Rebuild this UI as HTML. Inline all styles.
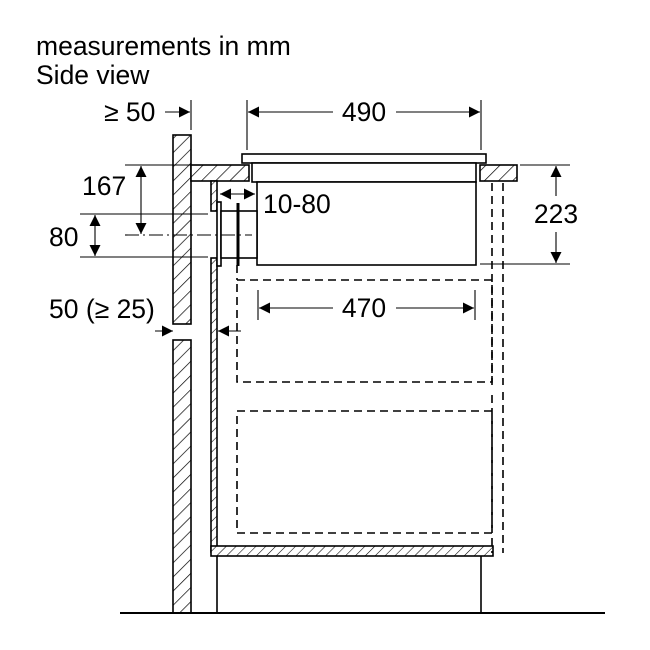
<!DOCTYPE html>
<html><head><meta charset="utf-8"><style>
html,body{margin:0;padding:0;background:#fff}
svg{display:block}
text{font-family:"Liberation Sans",sans-serif;fill:#000}
</style></head><body>
<svg width="650" height="650" viewBox="0 0 650 650" xmlns="http://www.w3.org/2000/svg">
<defs>
<pattern id="h" patternUnits="userSpaceOnUse" width="10" height="10" patternTransform="rotate(45)">
<rect width="10" height="10" fill="#fff"/><line x1="0" y1="0" x2="0" y2="10" stroke="#000" stroke-width="1.4"/>
</pattern>
<pattern id="hs" patternUnits="userSpaceOnUse" width="7" height="7" patternTransform="rotate(45)">
<rect width="7" height="7" fill="#fff"/><line x1="0" y1="0" x2="0" y2="7" stroke="#000" stroke-width="1.1"/>
</pattern>
<marker id="a" viewBox="0 0 10 10" refX="10" refY="5" markerWidth="15" markerHeight="11" markerUnits="userSpaceOnUse" orient="auto-start-reverse"><path d="M0,0 L10,5 L0,10 z" fill="#000"/></marker>
</defs>
<text x="36" y="55" font-size="26.5">measurements in mm</text>
<text x="36" y="84" font-size="26.5">Side view</text>
<g stroke="#000" stroke-width="1.6" fill="none">
<rect x="173" y="135" width="18" height="189" fill="url(#h)"/>
<rect x="173" y="340" width="18" height="273" fill="url(#h)"/>
<rect x="191" y="165" width="58" height="16" fill="url(#h)"/>
<rect x="480" y="165" width="37" height="16" fill="url(#h)"/>
<rect x="242" y="154" width="244" height="9" fill="#fff"/>
<rect x="252" y="163" width="224" height="19" fill="#fff"/>
<rect x="257" y="182" width="219" height="83" fill="#fff"/>
<rect x="211" y="181" width="6" height="30" fill="url(#hs)"/>
<rect x="211" y="258" width="6" height="294" fill="url(#hs)"/>
<rect x="217" y="202" width="4" height="64" fill="#fff"/>
<rect x="221" y="211" width="36" height="47" fill="#fff"/>
<line x1="238" y1="203" x2="238" y2="266" stroke-width="3"/>
<rect x="211" y="546" width="282" height="10" fill="url(#hs)"/>
<polyline points="217,556 217,613"/>
<polyline points="481,556 481,613"/>
<line x1="120" y1="613" x2="605" y2="613" stroke-width="2"/>
</g>
<g stroke="#000" stroke-width="1.6" fill="none" stroke-dasharray="8,5">
<rect x="237" y="280" width="255" height="102"/>
<rect x="237" y="411" width="255" height="122"/>
<line x1="492" y1="183" x2="492" y2="385"/>
<line x1="503" y1="183" x2="503" y2="385"/>
<line x1="492" y1="395" x2="492" y2="553"/>
<line x1="503" y1="392" x2="503" y2="553"/>
<line x1="237" y1="265" x2="237" y2="280"/>
</g>
<g stroke="#000" stroke-width="1.1" fill="none">
<line x1="191" y1="100" x2="191" y2="130"/>
<line x1="247" y1="100" x2="247" y2="150"/>
<line x1="481" y1="100" x2="481" y2="150"/>
<line x1="165" y1="112" x2="190" y2="112" marker-end="url(#a)"/>
<line x1="248" y1="112" x2="333" y2="112" marker-start="url(#a)"/>
<line x1="396" y1="112" x2="480" y2="112" marker-end="url(#a)"/>
<line x1="125" y1="165" x2="191" y2="165"/>
<line x1="520" y1="165" x2="570" y2="165"/>
<line x1="480" y1="264" x2="570" y2="264"/>
<line x1="556" y1="166" x2="556" y2="196" marker-start="url(#a)"/>
<line x1="556" y1="232" x2="556" y2="263" marker-end="url(#a)"/>
<line x1="141" y1="166" x2="141" y2="234" marker-start="url(#a)" marker-end="url(#a)"/>
<line x1="80" y1="214" x2="208" y2="214"/>
<line x1="80" y1="257" x2="208" y2="257"/>
<line x1="125" y1="235" x2="252" y2="235" stroke-dasharray="14,4,2,4"/>
<line x1="95" y1="215" x2="95" y2="256" marker-start="url(#a)" marker-end="url(#a)"/>
<line x1="220" y1="194" x2="255" y2="194" marker-start="url(#a)" marker-end="url(#a)"/>
<line x1="258" y1="290" x2="258" y2="320"/>
<line x1="475" y1="290" x2="475" y2="320"/>
<line x1="259" y1="308" x2="333" y2="308" marker-start="url(#a)"/>
<line x1="396" y1="308" x2="474" y2="308" marker-end="url(#a)"/>
<line x1="155" y1="331" x2="173" y2="331" marker-end="url(#a)"/>
<line x1="241" y1="331" x2="218" y2="331" marker-end="url(#a)"/>
</g>
<g font-size="26.5">
<text x="104" y="121">≥ 50</text>
<text x="364" y="121" text-anchor="middle">490</text>
<text x="556" y="223" text-anchor="middle">223</text>
<text x="82" y="195">167</text>
<text x="49" y="246">80</text>
<text x="263" y="213">10-80</text>
<text x="364" y="317" text-anchor="middle">470</text>
<text x="49" y="318">50 (≥ 25)</text>
</g>
</svg>
</body></html>
